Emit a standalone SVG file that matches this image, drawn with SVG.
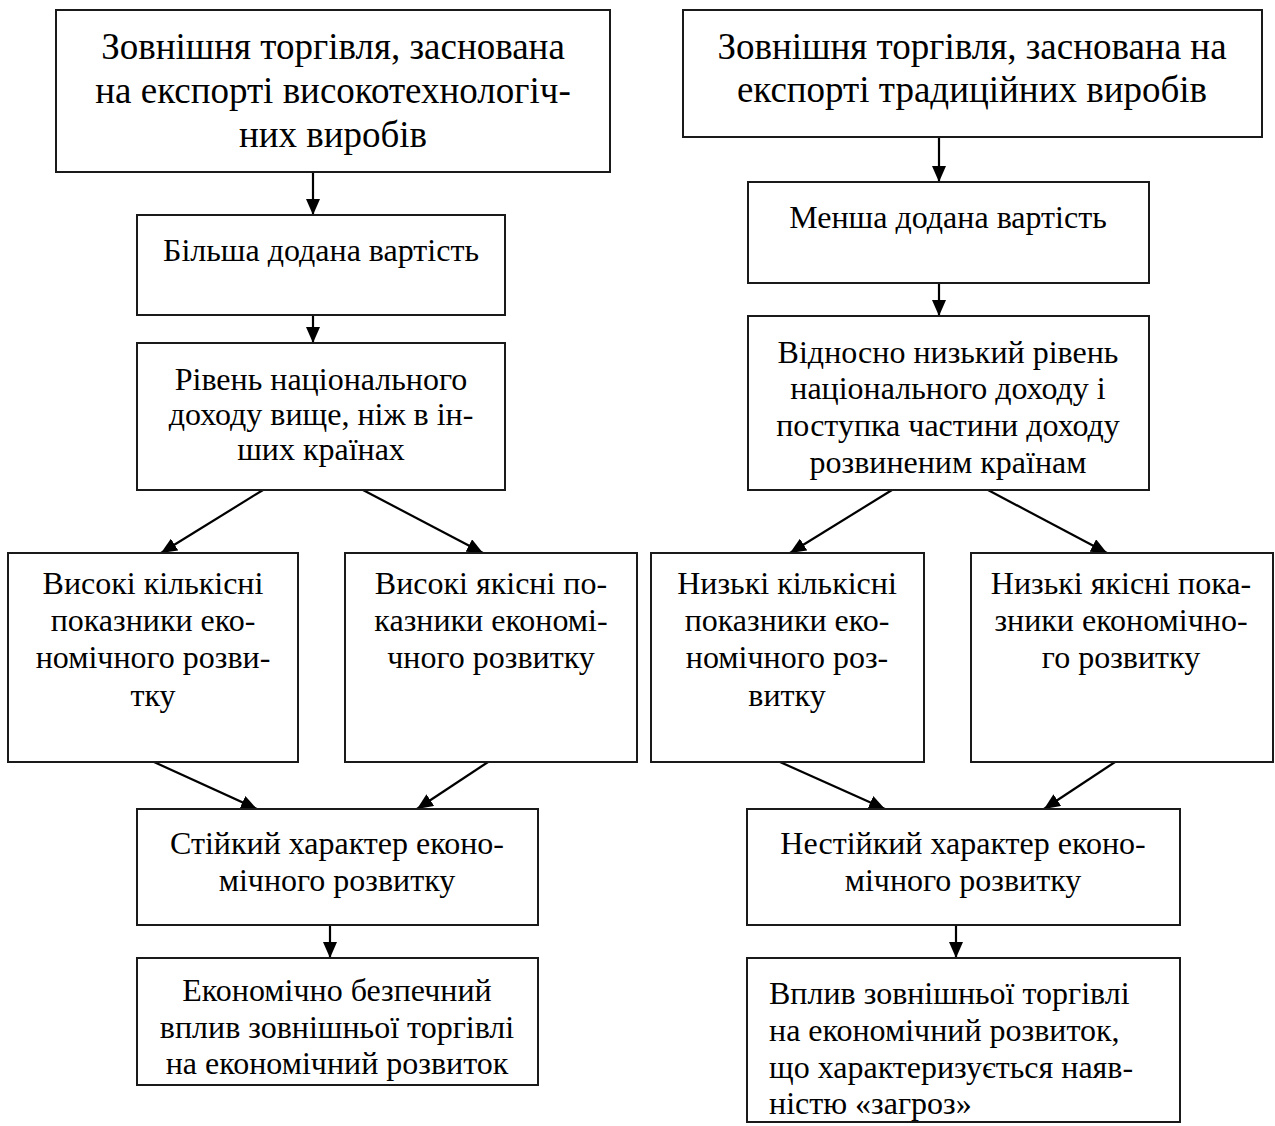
<svg xmlns="http://www.w3.org/2000/svg" width="1275" height="1126" viewBox="0 0 1275 1126">
<defs>
<marker id="ah" markerUnits="userSpaceOnUse" markerWidth="16" markerHeight="14" refX="16" refY="7" orient="auto" viewBox="0 0 16 14">
<path d="M0,0 L16,7 L0,14 Z" fill="#000"/>
</marker>
<style>
.box{fill:#fff;stroke:#1a1a1a;stroke-width:2}
.t{font-family:"Liberation Serif","Times New Roman",serif;font-size:32px;fill:#000;text-anchor:middle}
.big{font-size:37px}
.l{text-anchor:start}
.c{stroke:#000;stroke-width:2.2;fill:none;marker-end:url(#ah)}
</style>
</defs>
<rect width="1275" height="1126" fill="#fff"/>
<g id="connectors">
<line class="c" x1="313" y1="172" x2="313" y2="215"/>
<line class="c" x1="313" y1="315" x2="313" y2="343"/>
<line class="c" x1="263" y1="490" x2="161" y2="553"/>
<line class="c" x1="363" y1="490" x2="483" y2="553"/>
<line class="c" x1="154" y1="762" x2="257" y2="809"/>
<line class="c" x1="488" y1="762" x2="417" y2="809"/>
<line class="c" x1="330" y1="925" x2="330" y2="958"/>
<line class="c" x1="939" y1="137" x2="939" y2="182"/>
<line class="c" x1="939" y1="283" x2="939" y2="316"/>
<line class="c" x1="892" y1="490" x2="790" y2="553"/>
<line class="c" x1="988" y1="490" x2="1107" y2="553"/>
<line class="c" x1="780" y1="762" x2="885" y2="809"/>
<line class="c" x1="1115" y1="762" x2="1044" y2="809"/>
<line class="c" x1="956" y1="925" x2="956" y2="958"/>
</g>
<g id="a1"><rect class="box" x="56" y="10" width="554" height="162"/>
<text class="t big" x="333" y="59">Зовнішня торгівля, заснована</text>
<text class="t big" x="333" y="103">на експорті високотехнологіч-</text>
<text class="t big" x="333" y="147">них виробів</text></g>
<g id="a2"><rect class="box" x="137" y="215" width="368" height="100"/>
<text class="t" x="321" y="261">Більша додана вартість</text></g>
<g id="a3"><rect class="box" x="137" y="343" width="368" height="147"/>
<text class="t" x="321" y="390">Рівень національного</text>
<text class="t" x="321" y="425">доходу вище, ніж в ін-</text>
<text class="t" x="321" y="460">ших країнах</text></g>
<g id="a4"><rect class="box" x="8" y="553" width="290" height="209"/>
<text class="t" x="153" y="594">Високі кількісні</text>
<text class="t" x="153" y="631">показники еко-</text>
<text class="t" x="153" y="668">номічного розви-</text>
<text class="t" x="153" y="706">тку</text></g>
<g id="a5"><rect class="box" x="345" y="553" width="292" height="209"/>
<text class="t" x="491" y="594">Високі якісні по-</text>
<text class="t" x="491" y="631">казники економі-</text>
<text class="t" x="491" y="668">чного розвитку</text></g>
<g id="a6"><rect class="box" x="137" y="809" width="401" height="116"/>
<text class="t" x="337" y="854">Стійкий характер еконо-</text>
<text class="t" x="337" y="891">мічного розвитку</text></g>
<g id="a7"><rect class="box" x="137" y="958" width="401" height="127"/>
<text class="t" x="337" y="1001">Економічно безпечний</text>
<text class="t" x="337" y="1038">вплив зовнішньої торгівлі</text>
<text class="t" x="337" y="1074">на економічний розвиток</text></g>
<g id="b1"><rect class="box" x="683" y="10" width="579" height="127"/>
<text class="t big" x="972" y="59">Зовнішня торгівля, заснована на</text>
<text class="t big" x="972" y="102">експорті традиційних виробів</text></g>
<g id="b2"><rect class="box" x="748" y="182" width="401" height="101"/>
<text class="t" x="948" y="228">Менша додана вартість</text></g>
<g id="b3"><rect class="box" x="748" y="316" width="401" height="174"/>
<text class="t" x="948" y="363">Відносно низький рівень</text>
<text class="t" x="948" y="399">національного доходу і</text>
<text class="t" x="948" y="436">поступка частини доходу</text>
<text class="t" x="948" y="473">розвиненим країнам</text></g>
<g id="b4"><rect class="box" x="651" y="553" width="273" height="209"/>
<text class="t" x="787" y="594">Низькі кількісні</text>
<text class="t" x="787" y="631">показники еко-</text>
<text class="t" x="787" y="668">номічного роз-</text>
<text class="t" x="787" y="706">витку</text></g>
<g id="b5"><rect class="box" x="971" y="553" width="302" height="209"/>
<text class="t" x="1121" y="594">Низькі якісні пока-</text>
<text class="t" x="1121" y="631">зники економічно-</text>
<text class="t" x="1121" y="668">го розвитку</text></g>
<g id="b6"><rect class="box" x="747" y="809" width="433" height="116"/>
<text class="t" x="963" y="854">Нестійкий характер еконо-</text>
<text class="t" x="963" y="891">мічного розвитку</text></g>
<g id="b7"><rect class="box" x="747" y="958" width="433" height="164"/>
<text class="t l" x="769" y="1004">Вплив зовнішньої торгівлі</text>
<text class="t l" x="769" y="1041">на економічний розвиток,</text>
<text class="t l" x="769" y="1078">що характеризується наяв-</text>
<text class="t l" x="769" y="1114">ністю «загроз»</text></g>
</svg>
